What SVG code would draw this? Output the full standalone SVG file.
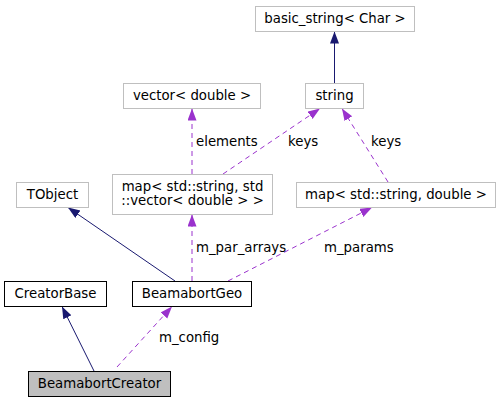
<svg xmlns="http://www.w3.org/2000/svg" width="500" height="403" viewBox="0 0 500 403">
<style>
text{font-family:"DejaVu Sans",sans-serif;font-size:13.3px;fill:#000;text-anchor:middle}
.lbl{text-anchor:start}
.g rect{fill:#fff;stroke:#bfbfbf;stroke-width:1}
.k rect{fill:#fff;stroke:#000;stroke-width:1}
.sel rect{fill:#bfbfbf;stroke:#000;stroke-width:1}
.inh{stroke:#191970;fill:none;stroke-width:1}
.use{stroke:#9a32cd;fill:none;stroke-width:1;stroke-dasharray:5,4}
</style>
<defs>
<marker id="an" markerUnits="userSpaceOnUse" markerWidth="13" markerHeight="10" refX="12" refY="4.5" orient="auto"><path d="M0,0 L12,4.5 L0,9 z" fill="#191970"/></marker>
<marker id="ap" markerUnits="userSpaceOnUse" markerWidth="13" markerHeight="10" refX="12" refY="4.5" orient="auto"><path d="M0,0 L12,4.5 L0,9 z" fill="#9a32cd"/></marker>
</defs>
<rect width="500" height="403" fill="#fff"/>
<g id="connectors">
<line class="inh" x1="334.5" y1="83" x2="334.5" y2="31.5" marker-end="url(#an)"/>
<line class="use" x1="192" y1="174" x2="192" y2="108.5" marker-end="url(#ap)"/>
<line class="use" x1="223" y1="174" x2="320" y2="108.5" marker-end="url(#ap)"/>
<line class="use" x1="388" y1="182" x2="342" y2="108.5" marker-end="url(#ap)"/>
<line class="inh" x1="175" y1="281" x2="68" y2="207.5" marker-end="url(#an)"/>
<line class="use" x1="192" y1="281" x2="192" y2="214.5" marker-end="url(#ap)"/>
<line class="use" x1="228" y1="281" x2="372" y2="207.5" marker-end="url(#ap)"/>
<line class="inh" x1="94" y1="371" x2="62" y2="306.5" marker-end="url(#an)"/>
<line class="use" x1="117" y1="367" x2="172" y2="306.5" marker-end="url(#ap)"/>
<text class="lbl" x="196" y="145.5">elements</text>
<text class="lbl" x="288" y="145.5">keys</text>
<text class="lbl" x="371" y="145.5">keys</text>
<text class="lbl" x="196" y="251.5">m_par_arrays</text>
<text class="lbl" x="324" y="251.5">m_params</text>
<text class="lbl" x="159" y="341.5">m_config</text>
</g>
<g id="basic_string" class="g"><rect x="255.5" y="6.5" width="159" height="25"/><text x="335" y="22.5">basic_string&lt; Char &gt;</text></g>
<g id="string" class="g"><rect x="305.5" y="83.5" width="58" height="25"/><text x="334.5" y="99.5">string</text></g>
<g id="vector" class="g"><rect x="123.5" y="83.5" width="137" height="25"/><text x="192" y="99.5">vector&lt; double &gt;</text></g>
<g id="map_vector" class="g"><rect x="112.5" y="174.5" width="160" height="40"/><text x="192.5" y="191">map&lt; std::string, std</text><text x="192.5" y="205">::vector&lt; double &gt; &gt;</text></g>
<g id="TObject" class="g"><rect x="16.5" y="182.5" width="72" height="25"/><text x="52.5" y="198.5">TObject</text></g>
<g id="map_double" class="g"><rect x="296.5" y="182.5" width="199" height="25"/><text x="396" y="198.5">map&lt; std::string, double &gt;</text></g>
<g id="CreatorBase" class="k"><rect x="4.5" y="281.5" width="102" height="25"/><text x="55.5" y="298">CreatorBase</text></g>
<g id="BeamabortGeo" class="k"><rect x="132.5" y="281.5" width="119" height="25"/><text x="192" y="298">BeamabortGeo</text></g>
<g id="BeamabortCreator" class="sel"><rect x="28.5" y="371.5" width="142" height="25"/><text x="99.5" y="388">BeamabortCreator</text></g>
</svg>
